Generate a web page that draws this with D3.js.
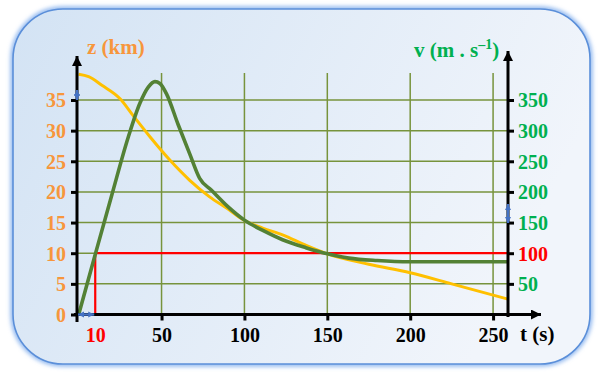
<!DOCTYPE html>
<html><head><meta charset="utf-8">
<script src="https://cdn.jsdelivr.net/npm/d3@7"></script>
<style>body{margin:0;background:#fff}svg{display:block}</style>
</head><body>
<svg id="c" width="598" height="376"></svg>
<script>
// ---- data ----
const zTicks = [0,5,10,15,20,25,30,35];
const vTicks = [50,100,150,200,250,300,350];
const tTicks = [10,50,100,150,200,250];
const tGrid = [50,100,150,200,250];
const altitude = [ // [t (s), z (km)]
  [0,39.2],[6,38.8],[14,37.4],[25,35.2],[33,32.4],[43,29.0],[55,25.2],[67,21.9],
  [79,19.2],[89,17.4],[99,15.5],[111,14.1],[123,13.0],[137,11.3],[150,9.9],
  [175,8.2],[200,6.8],[225,5.0],[259,2.5]
];
const speed = [ // [t (s), v (m/s)]
  [0,0],[10,98],[20,195],[30,290],[37,345],[42,371],[46,380],[49,377],[53,360],
  [60,310],[67,262],[73,222],[80,203],[90,176],[100,154],[112,136],[123,122],
  [137,109],[150,99],[163,92],[180,88],[200,86],[230,86],[259,86]
];
const refT = 10, refV = 100;

// ---- drawing ----
const svg = d3.select("#c");
const font = "'Liberation Serif','Times New Roman',serif";
const FS = 20;
const x = d3.scaleLinear().domain([-1,259]).range([77,508]);
const y = d3.scaleLinear().domain([0,35]).range([314.5,100]);
const yv = d3.scaleLinear().domain([0,350]).range([314.5,100]);
const X0 = x.range()[0], X1 = x.range()[1], Y0 = y(0);

const defs = svg.append("defs");
const g = defs.append("linearGradient").attr("id","bg").attr("x1","0").attr("y1","0").attr("x2","1").attr("y2","0.3");
g.append("stop").attr("offset","0").attr("stop-color","#D3E3F4");
g.append("stop").attr("offset","1").attr("stop-color","#F1F5FB");
const f = defs.append("filter").attr("id","glow").attr("x","-10%").attr("y","-10%").attr("width","120%").attr("height","120%");
f.append("feGaussianBlur").attr("stdDeviation","2");
const mk = (id, col, w, h) => defs.append("marker").attr("id",id).attr("viewBox","0 0 10 10")
  .attr("refX",10).attr("refY",5).attr("markerWidth",w).attr("markerHeight",h)
  .attr("markerUnits","userSpaceOnUse").attr("orient","auto-start-reverse")
  .append("path").attr("d","M0,0L10,5L0,10z").attr("fill",col);
mk("ab","#000",11,10);
mk("bl","#4472C4",6,9);

// frame
svg.append("rect").attr("x",13).attr("y",9).attr("width",577).attr("height",355).attr("rx",50)
  .attr("fill","none").attr("stroke","#8AB4EE").attr("stroke-width",5).attr("filter","url(#glow)");
svg.append("rect").attr("x",13).attr("y",9).attr("width",577).attr("height",355).attr("rx",50)
  .attr("fill","url(#bg)").attr("stroke","#5B8FD9").attr("stroke-width",1.6);

// grid
const grid = svg.append("g").attr("stroke","#77933C").attr("stroke-width",1.5);
grid.selectAll(".h").data(zTicks.slice(1)).join("line")
  .attr("x1",X0).attr("x2",X1).attr("y1",d=>y(d)).attr("y2",d=>y(d));
grid.selectAll(".v").data(tGrid).join("line")
  .attr("x1",d=>x(d)).attr("x2",d=>x(d)).attr("y1",Y0).attr("y2",73);

// reference red lines
svg.append("path").attr("fill","none").attr("stroke","#FF0000").attr("stroke-width",2.2)
  .attr("d",`M${x(refT)},${Y0}V${yv(refV)}H${X1}`);

// curves
const line = d3.line().curve(d3.curveMonotoneX);
svg.append("path").attr("fill","none").attr("stroke","#FFC000").attr("stroke-width",3)
  .attr("d", line.x(d=>x(d[0])).y(d=>y(d[1]))(altitude));
svg.append("path").attr("fill","none").attr("stroke","#538135").attr("stroke-width",3.6)
  .attr("d", line.x(d=>x(d[0])).y(d=>yv(d[1]))(speed));

// axes lines with arrows
const ax = svg.append("g").attr("stroke","#000").attr("stroke-width",3).attr("fill","none");
ax.append("line").attr("x1",X0).attr("x2",X0).attr("y1",322).attr("y2",56).attr("marker-end","url(#ab)");
ax.append("line").attr("x1",X1).attr("x2",X1).attr("y1",317).attr("y2",51).attr("marker-end","url(#ab)");
ax.append("line").attr("x1",74).attr("x2",541).attr("y1",Y0).attr("y2",Y0).attr("marker-end","url(#ab)");

function styleAxis(sel, fill){
  sel.select(".domain").remove();
  sel.selectAll(".tick line").attr("stroke","#000").attr("stroke-width",3);
  sel.selectAll(".tick text").attr("font-family",font).attr("font-weight","bold")
    .attr("font-size",FS).attr("fill",fill);
}
const la = svg.append("g").attr("transform",`translate(${X0},0)`)
  .call(d3.axisLeft(y).tickValues(zTicks).tickSize(6).tickPadding(5));
styleAxis(la,"#F7963C");
la.selectAll(".tick text").attr("dy","0.34em");

const ra = svg.append("g").attr("transform",`translate(${X1},0)`)
  .call(d3.axisRight(yv).tickValues(vTicks).tickSize(6).tickPadding(4));
styleAxis(ra,"#00B050");
ra.selectAll(".tick text").attr("dy","0.34em").filter(d=>d===refV).attr("fill","#FF0000");

const ba = svg.append("g").attr("transform",`translate(0,${Y0})`)
  .call(d3.axisBottom(x).tickValues(tTicks).tickSize(6).tickPadding(7));
styleAxis(ba,"#000");
ba.selectAll(".tick text").attr("dy","0.72em");
ba.selectAll(".tick").filter(d=>d===refT).select("line").remove();
ba.selectAll(".tick").filter(d=>d===refT).select("text").attr("fill","#FF0000");

// axis titles
const txt = (xx,yy,col,s,fs) => svg.append("text").attr("x",xx).attr("y",yy).attr("fill",col)
  .attr("font-family",font).attr("font-weight","bold").attr("font-size",fs).text(s);
txt(87,54,"#F7963C","z (km)",21);
const vt = txt(414,57,"#00B050","v (m . s",21);
vt.append("tspan").attr("dy",-8).attr("font-size",14).text("–1");
vt.append("tspan").attr("dy",8).text(")");
txt(520,341,"#000","t (s)",21);

// small blue double arrows
const bl = svg.append("g").attr("stroke","#4472C4").attr("stroke-width",2.4).attr("fill","none");
bl.append("line").attr("x1",X0).attr("x2",X0).attr("y1",y(35)).attr("y2",y(35)-10)
  .attr("marker-start","url(#bl)").attr("marker-end","url(#bl)");
bl.append("line").attr("x1",X0+1).attr("x2",x(refT)-1).attr("y1",Y0).attr("y2",Y0)
  .attr("marker-start","url(#bl)").attr("marker-end","url(#bl)");
bl.append("line").attr("x1",X1).attr("x2",X1).attr("y1",204).attr("y2",223)
  .attr("marker-start","url(#bl)").attr("marker-end","url(#bl)");
</script>
</body></html>
